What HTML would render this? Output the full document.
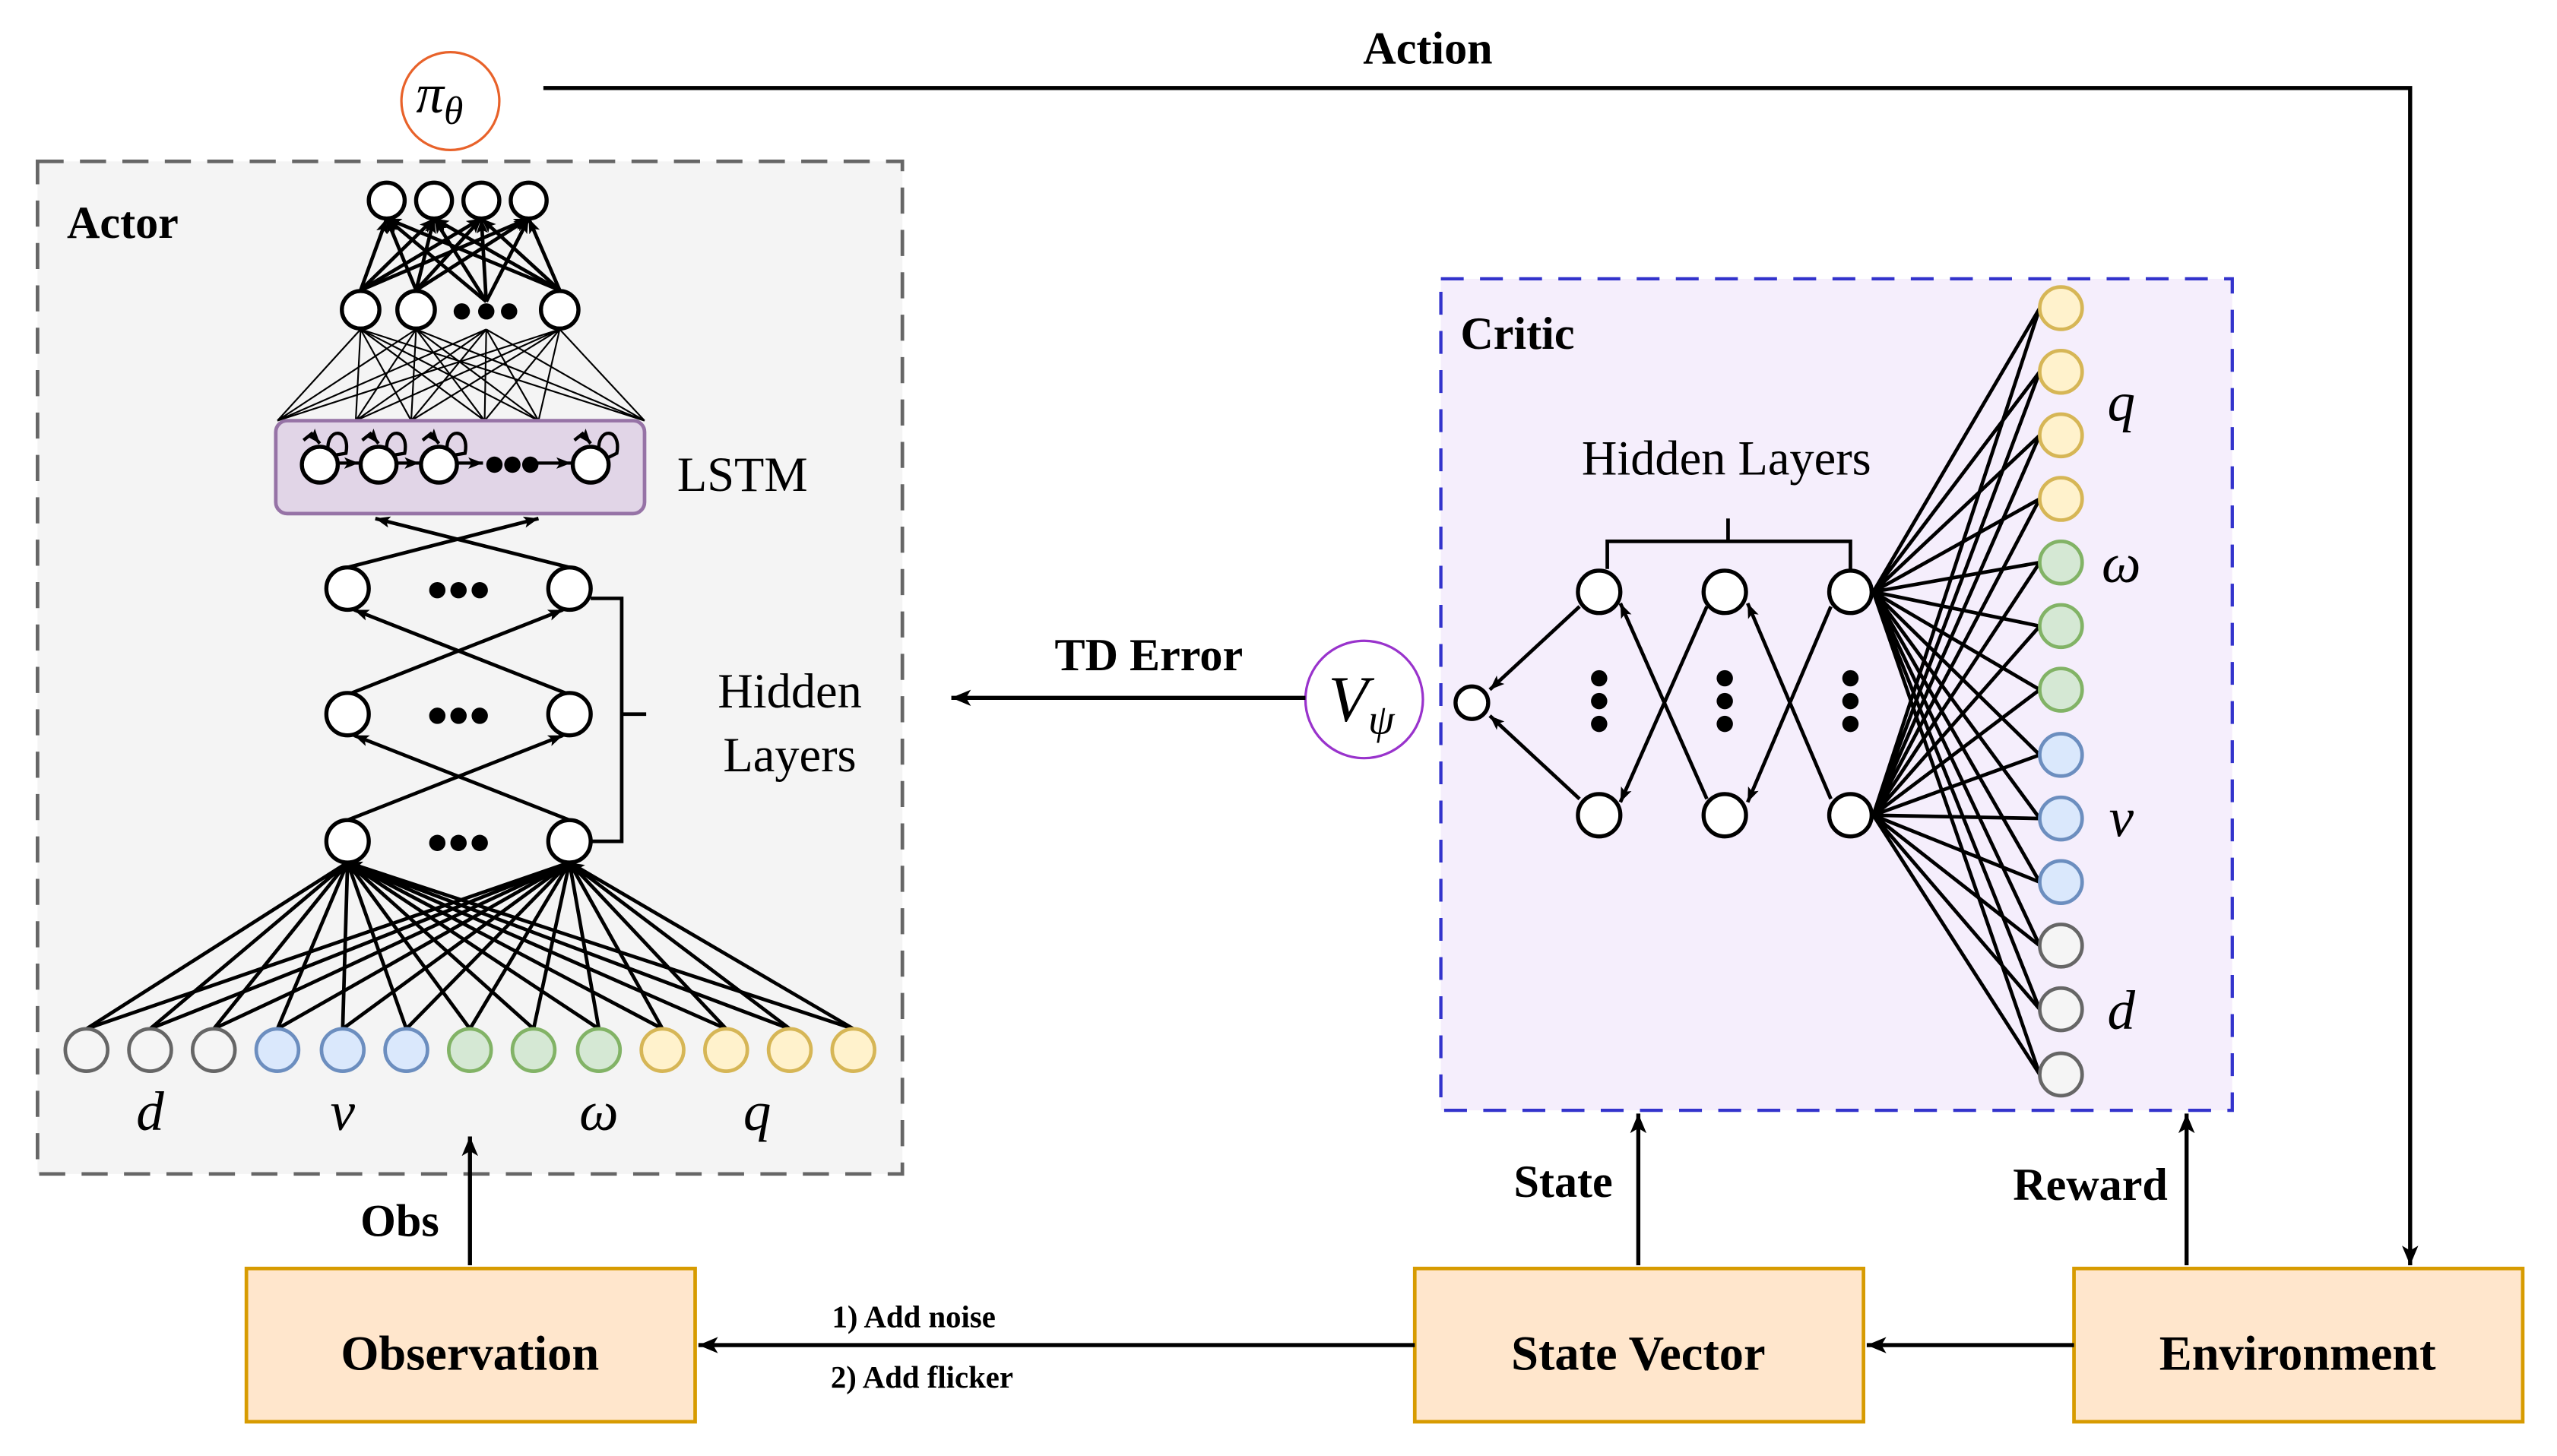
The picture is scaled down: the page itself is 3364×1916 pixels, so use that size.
<!DOCTYPE html>
<html><head><meta charset="utf-8"><style>html,body{margin:0;padding:0;background:#fff}svg{display:block}svg text{font-family:"Liberation Serif","DejaVu Serif",serif}</style></head>
<body>
<svg width="3364" height="1916" viewBox="0 0 1567 893" preserveAspectRatio="none" xmlns="http://www.w3.org/2000/svg" style="font-family:'Liberation Serif',serif">
<defs>
<marker id="a" markerUnits="userSpaceOnUse" markerWidth="14" markerHeight="12" refX="12" refY="6" orient="auto"><path d="M0,1 L12,6 L0,11 L3,6 z" fill="#000"/></marker>
<marker id="s" markerUnits="userSpaceOnUse" markerWidth="10" markerHeight="8" refX="9" refY="4" orient="auto"><path d="M0,0.5 L9,4 L0,7.5 L2,4 z" fill="#000"/></marker>
</defs>
<rect width="1567" height="893" fill="#fff"/>
<rect x="23" y="99" width="530" height="621" fill="#f4f4f4" stroke="#666" stroke-width="2.2" stroke-dasharray="16,10"/>
<text x="41" y="146" font-size="28" font-weight="bold">Actor</text>
<rect x="883" y="171" width="485" height="510" fill="#f5eefc" stroke="#3333cc" stroke-width="2" stroke-dasharray="14,10"/>
<text x="895" y="214" font-size="28" font-weight="bold">Critic</text>

<circle cx="276" cy="62" r="30" fill="#fff" stroke="#e8622a" stroke-width="1.5"/>
<text x="255" y="69" font-size="34" font-style="italic">π<tspan font-size="24" dy="7">θ</tspan></text>
<polyline points="333,54 1477,54 1477,776" fill="none" stroke="#000" stroke-width="2.5" marker-end="url(#a)"/>
<text x="875" y="39" font-size="28" font-weight="bold" text-anchor="middle">Action</text>

<g stroke="#000" stroke-width="1" fill="none">
<path d="M170,258L221,202M170,258L255,202M170,258L298,202M170,258L343,202
M218,258L221,202M218,258L255,202M218,258L298,202M218,258L343,202
M252,258L221,202M252,258L255,202M252,258L298,202M252,258L343,202
M297,258L221,202M297,258L255,202M297,258L298,202M297,258L343,202
M330,258L221,202M330,258L255,202M330,258L298,202M330,258L343,202
M395,258L221,202M395,258L255,202M395,258L298,202M395,258L343,202"/>
</g>
<g stroke="#000" stroke-width="2.2" fill="none" marker-end="url(#s)">
<line x1="221" y1="178" x2="237" y2="134"/><line x1="221" y1="178" x2="266" y2="134"/><line x1="221" y1="178" x2="295" y2="134"/><line x1="221" y1="178" x2="324" y2="134"/>
<line x1="255" y1="178" x2="237" y2="134"/><line x1="255" y1="178" x2="266" y2="134"/><line x1="255" y1="178" x2="295" y2="134"/><line x1="255" y1="178" x2="324" y2="134"/>
<line x1="298" y1="185" x2="237" y2="134"/><line x1="298" y1="185" x2="266" y2="134"/><line x1="298" y1="185" x2="295" y2="134"/><line x1="298" y1="185" x2="324" y2="134"/>
<line x1="343" y1="178" x2="237" y2="134"/><line x1="343" y1="178" x2="266" y2="134"/><line x1="343" y1="178" x2="295" y2="134"/><line x1="343" y1="178" x2="324" y2="134"/>
</g>
<g fill="#fff" stroke="#000" stroke-width="2.5">
<circle cx="237" cy="123" r="11"/><circle cx="266" cy="123" r="11"/><circle cx="295" cy="123" r="11"/><circle cx="324" cy="123" r="11"/>
<circle cx="221" cy="190" r="11.5"/><circle cx="255" cy="190" r="11.5"/><circle cx="343" cy="190" r="11.5"/>
</g>
<g fill="#000"><circle cx="283" cy="191" r="5"/><circle cx="298" cy="191" r="5"/><circle cx="312" cy="191" r="5"/></g>
<rect x="169" y="258" width="226" height="57" rx="7" fill="#e1d5e7" stroke="#9673a6" stroke-width="2.2"/>
<g stroke="#000" stroke-width="2" fill="none">
<path d="M208,284 L220,284" marker-end="url(#s)"/><path d="M244,284 L257,284" marker-end="url(#s)"/><path d="M281,284 L296,284" marker-end="url(#s)"/><path d="M326,284 L350,284" marker-end="url(#s)"/>
<path d="M201,276 C200,262 215,262 212,278 L206,279"/><path d="M237,276 C236,262 251,262 248,278 L242,279"/><path d="M274,276 C273,262 288,262 285,278 L279,279"/><path d="M367,276 C366,262 381,262 378,278 L372,281"/>
<path d="M186,270 L191,266 L196,272" marker-end="url(#s)"/><path d="M222,270 L227,266 L232,272" marker-end="url(#s)"/><path d="M259,270 L264,266 L269,272" marker-end="url(#s)"/><path d="M352,270 L357,266 L362,272" marker-end="url(#s)"/>
</g>
<g fill="#fff" stroke="#000" stroke-width="2.5"><circle cx="196" cy="285" r="11"/><circle cx="232" cy="285" r="11"/><circle cx="269" cy="285" r="11"/><circle cx="362" cy="285" r="11"/></g>
<g fill="#000"><circle cx="303" cy="285" r="5"/><circle cx="314" cy="285" r="5"/><circle cx="325" cy="285" r="5"/></g>
<text x="415" y="301" font-size="30">LSTM</text>
<g stroke="#000" stroke-width="2.2" fill="none" marker-end="url(#s)">
<line x1="213" y1="348" x2="330" y2="318"/><line x1="349" y1="348" x2="230" y2="318"/>
<line x1="213" y1="426" x2="345" y2="374"/><line x1="349" y1="426" x2="217" y2="374"/>
<line x1="213" y1="503" x2="345" y2="451"/><line x1="349" y1="503" x2="217" y2="451"/>
</g>
<g fill="#fff" stroke="#000" stroke-width="2.5">
<circle cx="213" cy="361" r="13"/><circle cx="349" cy="361" r="13"/><circle cx="213" cy="438" r="13"/><circle cx="349" cy="438" r="13"/><circle cx="213" cy="516" r="13"/><circle cx="349" cy="516" r="13"/>
</g>
<g fill="#000"><circle cx="268" cy="362" r="5"/><circle cx="281" cy="362" r="5"/><circle cx="294" cy="362" r="5"/><circle cx="268" cy="439" r="5"/><circle cx="281" cy="439" r="5"/><circle cx="294" cy="439" r="5"/><circle cx="268" cy="517" r="5"/><circle cx="281" cy="517" r="5"/><circle cx="294" cy="517" r="5"/></g>
<polyline points="362,367 381,367 381,516 362,516" fill="none" stroke="#000" stroke-width="2.2"/>
<line x1="381" y1="438" x2="396" y2="438" stroke="#000" stroke-width="2.2"/>
<text x="484" y="434" font-size="30" text-anchor="middle">Hidden</text>
<text x="484" y="473" font-size="30" text-anchor="middle">Layers</text>
<g stroke="#000" stroke-width="2.2" fill="none" marker-end="url(#s)">
<path d="M53,631L213,529M92,631L213,529M131,631L213,529M170,631L213,529M210,631L213,529M249,631L213,529M288,631L213,529M327,631L213,529M367,631L213,529M406,631L213,529M445,631L213,529M484,631L213,529M523,631L213,529"/>
<path d="M53,631L349,529M92,631L349,529M131,631L349,529M170,631L349,529M210,631L349,529M249,631L349,529M288,631L349,529M327,631L349,529M367,631L349,529M406,631L349,529M445,631L349,529M484,631L349,529M523,631L349,529"/>
</g>
<g stroke-width="2.2">
<circle cx="53" cy="644" r="13" fill="#f5f5f5" stroke="#666"/><circle cx="92" cy="644" r="13" fill="#f5f5f5" stroke="#666"/><circle cx="131" cy="644" r="13" fill="#f5f5f5" stroke="#666"/>
<circle cx="170" cy="644" r="13" fill="#dae8fc" stroke="#6c8ebf"/><circle cx="210" cy="644" r="13" fill="#dae8fc" stroke="#6c8ebf"/><circle cx="249" cy="644" r="13" fill="#dae8fc" stroke="#6c8ebf"/>
<circle cx="288" cy="644" r="13" fill="#d5e8d4" stroke="#82b366"/><circle cx="327" cy="644" r="13" fill="#d5e8d4" stroke="#82b366"/><circle cx="367" cy="644" r="13" fill="#d5e8d4" stroke="#82b366"/>
<circle cx="406" cy="644" r="13" fill="#fff2cc" stroke="#d6b656"/><circle cx="445" cy="644" r="13" fill="#fff2cc" stroke="#d6b656"/><circle cx="484" cy="644" r="13" fill="#fff2cc" stroke="#d6b656"/><circle cx="523" cy="644" r="13" fill="#fff2cc" stroke="#d6b656"/>
</g>
<g font-size="34" font-style="italic" text-anchor="middle">
<text x="92" y="693">d</text><text x="210" y="693">v</text><text x="367" y="693">ω</text><text x="464" y="693">q</text>
</g>

<line x1="288" y1="776" x2="288" y2="697" stroke="#000" stroke-width="2.5" marker-end="url(#a)"/>
<text x="245" y="758" font-size="28" font-weight="bold" text-anchor="middle">Obs</text>
<g fill="#ffe6cc" stroke="#d79b00" stroke-width="2.2">
<rect x="151" y="778" width="275" height="94"/><rect x="867" y="778" width="275" height="94"/><rect x="1271" y="778" width="275" height="94"/>
</g>
<g font-size="30" font-weight="bold" text-anchor="middle">
<text x="288" y="840">Observation</text><text x="1004" y="840">State Vector</text><text x="1408" y="840">Environment</text>
</g>
<line x1="1271" y1="825" x2="1144" y2="825" stroke="#000" stroke-width="2.5" marker-end="url(#a)"/>
<line x1="867" y1="825" x2="428" y2="825" stroke="#000" stroke-width="2.5" marker-end="url(#a)"/>
<text x="560" y="814" font-size="19" font-weight="bold" text-anchor="middle">1) Add noise</text>
<text x="565" y="851" font-size="19" font-weight="bold" text-anchor="middle">2) Add flicker</text>
<line x1="1004" y1="776" x2="1004" y2="683" stroke="#000" stroke-width="2.5" marker-end="url(#a)"/>
<text x="958" y="734" font-size="28" font-weight="bold" text-anchor="middle">State</text>
<line x1="1340" y1="776" x2="1340" y2="683" stroke="#000" stroke-width="2.5" marker-end="url(#a)"/>
<text x="1281" y="736" font-size="28" font-weight="bold" text-anchor="middle">Reward</text>

<circle cx="836" cy="429" r="36" fill="#fff" stroke="#9933cc" stroke-width="1.5"/>
<text x="814" y="442" font-size="40" font-style="italic">V<tspan font-size="26" dy="8">ψ</tspan></text>
<line x1="800" y1="428" x2="583" y2="428" stroke="#000" stroke-width="2.5" marker-end="url(#a)"/>
<text x="704" y="411" font-size="28" font-weight="bold" text-anchor="middle">TD Error</text>

<g stroke="#000" stroke-width="2.2" fill="none">
<path d="M1250,189L1148,363M1250,228L1148,363M1250,267L1148,363M1250,306L1148,363M1250,345L1148,363M1250,384L1148,363M1250,423L1148,363M1250,463L1148,363M1250,502L1148,363M1250,541L1148,363M1250,580L1148,363M1250,619L1148,363M1250,659L1148,363"/>
<path d="M1250,189L1148,500M1250,228L1148,500M1250,267L1148,500M1250,306L1148,500M1250,345L1148,500M1250,384L1148,500M1250,423L1148,500M1250,463L1148,500M1250,502L1148,500M1250,541L1148,500M1250,580L1148,500M1250,619L1148,500M1250,659L1148,500"/>
</g>
<g stroke="#000" stroke-width="2.2" fill="none" marker-end="url(#s)">
<line x1="1122" y1="490" x2="1071" y2="370"/><line x1="1122" y1="372" x2="1071" y2="492"/>
<line x1="1046" y1="490" x2="993" y2="370"/><line x1="1046" y1="372" x2="993" y2="492"/>
<line x1="968" y1="372" x2="913" y2="423"/><line x1="968" y1="490" x2="913" y2="439"/>
</g>
<g fill="#fff" stroke="#000" stroke-width="2.5">
<circle cx="902" cy="431" r="10"/>
<circle cx="980" cy="363" r="13"/><circle cx="1057" cy="363" r="13"/><circle cx="1134" cy="363" r="13"/>
<circle cx="980" cy="500" r="13"/><circle cx="1057" cy="500" r="13"/><circle cx="1134" cy="500" r="13"/>
</g>
<g fill="#000">
<circle cx="980" cy="416" r="5"/><circle cx="980" cy="430" r="5"/><circle cx="980" cy="444" r="5"/>
<circle cx="1057" cy="416" r="5"/><circle cx="1057" cy="430" r="5"/><circle cx="1057" cy="444" r="5"/>
<circle cx="1134" cy="416" r="5"/><circle cx="1134" cy="430" r="5"/><circle cx="1134" cy="444" r="5"/>
</g>
<polyline points="985,349 985,332 1134,332 1134,349" fill="none" stroke="#000" stroke-width="2.2"/>
<line x1="1059" y1="332" x2="1059" y2="318" stroke="#000" stroke-width="2.2"/>
<text x="1058" y="291" font-size="30" text-anchor="middle">Hidden Layers</text>
<g stroke-width="2.2">
<circle cx="1263" cy="189" r="13" fill="#fff2cc" stroke="#d6b656"/><circle cx="1263" cy="228" r="13" fill="#fff2cc" stroke="#d6b656"/><circle cx="1263" cy="267" r="13" fill="#fff2cc" stroke="#d6b656"/><circle cx="1263" cy="306" r="13" fill="#fff2cc" stroke="#d6b656"/>
<circle cx="1263" cy="345" r="13" fill="#d5e8d4" stroke="#82b366"/><circle cx="1263" cy="384" r="13" fill="#d5e8d4" stroke="#82b366"/><circle cx="1263" cy="423" r="13" fill="#d5e8d4" stroke="#82b366"/>
<circle cx="1263" cy="463" r="13" fill="#dae8fc" stroke="#6c8ebf"/><circle cx="1263" cy="502" r="13" fill="#dae8fc" stroke="#6c8ebf"/><circle cx="1263" cy="541" r="13" fill="#dae8fc" stroke="#6c8ebf"/>
<circle cx="1263" cy="580" r="13" fill="#f5f5f5" stroke="#666"/><circle cx="1263" cy="619" r="13" fill="#f5f5f5" stroke="#666"/><circle cx="1263" cy="659" r="13" fill="#f5f5f5" stroke="#666"/>
</g>
<g font-size="34" font-style="italic" text-anchor="middle">
<text x="1300" y="258">q</text><text x="1300" y="357">ω</text><text x="1300" y="513">v</text><text x="1300" y="631">d</text>
</g>
</svg>
</body></html>
